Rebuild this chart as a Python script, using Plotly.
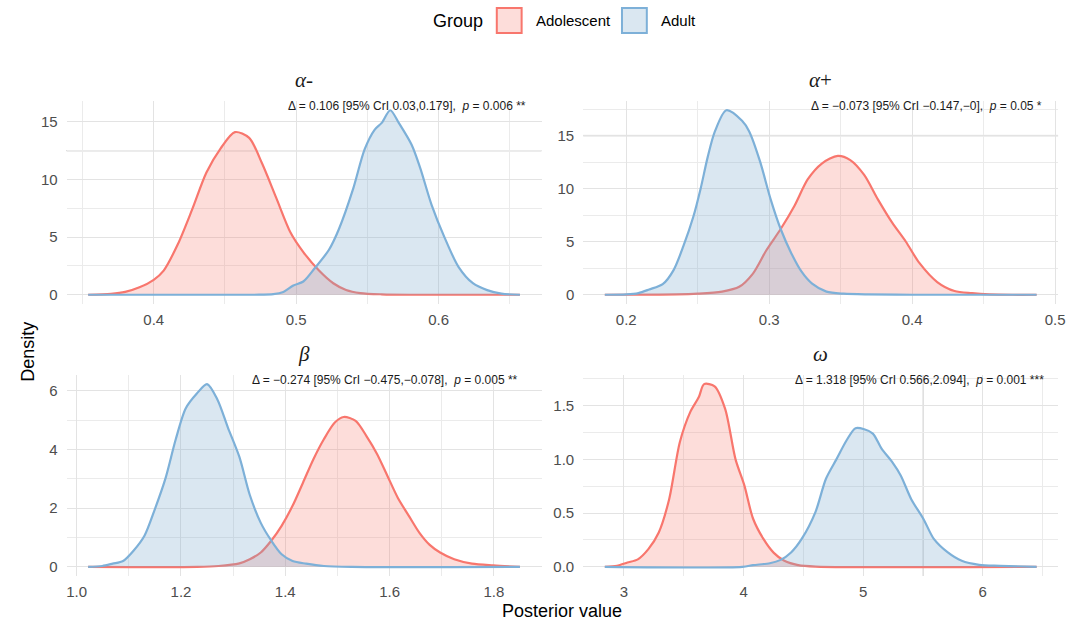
import plotly.graph_objects as go

W, H = 1091, 624

# ---------------- data ----------------
panel_titles = ["<i>α</i>-", "<i>α</i>+", "<i>β</i>", "<i>ω</i>"]
groups = ["Adolescent", "Adult"]

# alpha-minus
am_adol_x = [0.354, 0.370, 0.380, 0.390, 0.400, 0.407, 0.417, 0.427, 0.437, 0.447, 0.457, 0.467, 0.476,
             0.486, 0.496, 0.505, 0.516, 0.526, 0.535, 0.545, 0.560, 0.580, 0.657]
am_adol_y = [0.0, 0.08, 0.25, 0.65, 1.3, 2.1, 4.4, 7.4, 10.6, 12.7, 14.1, 13.6, 11.4,
             8.4, 5.4, 3.7, 2.1, 1.0, 0.42, 0.15, 0.04, 0.0, 0.0]
am_adult_x = [0.354, 0.470, 0.484, 0.491, 0.498, 0.505, 0.513, 0.523, 0.530, 0.540, 0.548, 0.555, 0.560,
              0.566, 0.572, 0.581, 0.587, 0.595, 0.604, 0.614, 0.624, 0.634, 0.644, 0.657]
am_adult_y = [0.0, 0.0, 0.05, 0.25, 0.8, 1.15, 2.3, 3.9, 5.7, 9.2, 12.6, 14.3, 14.9,
              16.0, 14.9, 13.0, 11.0, 7.8, 5.0, 2.4, 1.0, 0.4, 0.1, 0.0]

# alpha-plus
ap_adol_x = [0.185, 0.235, 0.250, 0.267, 0.279, 0.2886, 0.298, 0.308, 0.3177, 0.327, 0.337, 0.348, 0.3567,
             0.3664, 0.376, 0.386, 0.3956, 0.405, 0.4175, 0.4296, 0.4418, 0.454, 0.470, 0.487]
ap_adol_y = [0.0, 0.03, 0.1, 0.3, 0.75, 2.0, 4.2, 6.2, 8.4, 10.9, 12.4, 13.1, 12.7,
             11.3, 9.0, 6.8, 5.0, 3.0, 1.2, 0.35, 0.15, 0.04, 0.0, 0.0]
ap_adult_x = [0.185, 0.200, 0.2085, 0.216, 0.2255, 0.233, 0.240, 0.247, 0.252, 0.257, 0.262, 0.270, 0.281,
              0.286, 0.2935, 0.301, 0.308, 0.3155, 0.3225, 0.330, 0.340, 0.352, 0.369, 0.400, 0.487]
ap_adult_y = [0.0, 0.03, 0.16, 0.5, 1.0, 2.3, 4.6, 7.4, 10.0, 13.0, 15.4, 17.4, 16.4,
              15.4, 12.6, 9.0, 6.2, 3.9, 2.2, 1.05, 0.3, 0.1, 0.03, 0.0, 0.0]

# beta
b_adol_x = [1.022, 1.231, 1.272, 1.312, 1.332, 1.353, 1.373, 1.393, 1.414, 1.434, 1.454, 1.474, 1.495,
            1.512, 1.535, 1.556, 1.576, 1.596, 1.616, 1.637, 1.657, 1.677, 1.697, 1.724, 1.758, 1.799, 1.850]
b_adol_y = [0.0, 0.0, 0.03, 0.12, 0.26, 0.49, 0.89, 1.4, 2.08, 2.87, 3.67, 4.35, 4.92,
            5.11, 4.98, 4.45, 3.85, 3.1, 2.35, 1.74, 1.17, 0.75, 0.49, 0.26, 0.11, 0.05, 0.0]
b_adult_x = [1.022, 1.049, 1.069, 1.089, 1.109, 1.130, 1.150, 1.170, 1.190, 1.209, 1.230, 1.250, 1.270,
             1.290, 1.312, 1.332, 1.353, 1.373, 1.393, 1.414, 1.440, 1.474, 1.528, 1.850]
b_adult_y = [0.0, 0.03, 0.11, 0.2, 0.55, 1.06, 1.97, 3.0, 4.35, 5.4, 5.9, 6.23, 5.7,
             4.75, 3.75, 2.45, 1.5, 0.9, 0.43, 0.2, 0.11, 0.03, 0.0, 0.0]

# omega
w_adol_x = [2.84, 2.942, 3.029, 3.116, 3.204, 3.291, 3.378, 3.467, 3.554, 3.626, 3.670, 3.758, 3.846,
            3.933, 4.006, 4.079, 4.166, 4.253, 4.341, 4.457, 4.603, 6.45]
w_adol_y = [0.0, 0.01, 0.04, 0.07, 0.165, 0.32, 0.63, 1.16, 1.44, 1.58, 1.70, 1.68, 1.47,
            1.0, 0.76, 0.45, 0.26, 0.13, 0.056, 0.016, 0.003, 0.0]
w_adult_x = [2.84, 3.99, 4.079, 4.22, 4.31, 4.397, 4.486, 4.601, 4.689, 4.776, 4.863, 4.936, 5.009,
             5.081, 5.154, 5.242, 5.314, 5.402, 5.504, 5.591, 5.708, 5.824, 5.97, 6.144, 6.45]
w_adult_y = [0.0, 0.0, 0.016, 0.034, 0.065, 0.134, 0.26, 0.51, 0.82, 1.0, 1.18, 1.29, 1.28,
             1.24, 1.1, 0.976, 0.85, 0.63, 0.446, 0.26, 0.134, 0.056, 0.019, 0.01, 0.0]

stat_labels = [
    "Δ = 0.106 [95% CrI 0.03,0.179],\u00a0\u00a0<i>p</i> = 0.006 **",
    "Δ = \u22120.073 [95% CrI \u22120.147,\u22120],\u00a0\u00a0<i>p</i> = 0.05 *",
    "Δ = \u22120.274 [95% CrI \u22120.475,\u22120.078],\u00a0\u00a0<i>p</i> = 0.005 **",
    "Δ = 1.318 [95% CrI 0.566,2.094],\u00a0\u00a0<i>p</i> = 0.001 ***",
]

x_major = [0.1, 0.1, 0.2, 1.0]
y_major = [5, 5, 2, 0.5]
x_fmt = [None, None, ".1f", None]
y_fmt = [None, None, None, ".1f"]

series = [
    ((am_adol_x, am_adol_y), (am_adult_x, am_adult_y)),
    ((ap_adol_x, ap_adol_y), (ap_adult_x, ap_adult_y)),
    ((b_adol_x, b_adol_y), (b_adult_x, b_adult_y)),
    ((w_adol_x, w_adol_y), (w_adult_x, w_adult_y)),
]

# ---------------- styling ----------------
ADOL_LINE = "#F8766D"
ADOL_FILL = "rgba(248,118,109,0.25)"
ADULT_LINE = "#7DB0D8"
ADULT_FILL = "rgba(123,170,205,0.28)"
FONT = "Liberation Sans, Arial, sans-serif"
TICK_COL = "#4d4d4d"
GRID_MAJ = "#e3e3e3"
GRID_MIN = "#ebebeb"

def px_x(p):
    return p / W

def px_y(p):
    return 1 - p / H

# panel pixel boxes: (left, right, top, bottom)
col_px = [(67, 545), (587, 1065)]
row_px = [(101, 304), (375, 576)]

fig = go.Figure()
annotations = []
shapes = []

for i, ((ax_, ay_), (bx_, by_)) in enumerate(series):
    r, c = divmod(i, 2)
    n = "" if i == 0 else str(i + 1)
    xa, ya = "x" + n, "y" + n
    for (xs, ys), name, lc, fc in [((ax_, ay_), "Adolescent", ADOL_LINE, ADOL_FILL),
                                    ((bx_, by_), "Adult", ADULT_LINE, ADULT_FILL)]:
        fig.add_trace(go.Scatter(
            x=xs, y=ys, mode="lines", name=name, legendgroup=name, showlegend=False,
            line=dict(color=lc, width=2.2, shape="spline", smoothing=0.8),
            fill="tozeroy", fillcolor=fc, xaxis=xa, yaxis=ya,
            hoverinfo="x+y+name",
        ))
    xmin = min(min(ax_), min(bx_))
    xmax = max(max(ax_), max(bx_))
    ymax = max(max(ay_), max(by_))
    xpad = (xmax - xmin) * 0.05
    l, rgt = col_px[c]
    t, b = row_px[r]
    xaxis = dict(
        domain=[px_x(l), px_x(rgt)], anchor=ya, range=[xmin - xpad, xmax + xpad],
        dtick=x_major[i], tick0=0, showgrid=True, gridcolor=GRID_MAJ, gridwidth=1.4,
        minor=dict(dtick=x_major[i] / 2, tick0=0, showgrid=True, gridcolor=GRID_MIN, gridwidth=1),
        zeroline=False, showline=False, ticks="", ticklabelstandoff=5,
        tickfont=dict(family=FONT, size=15, color=TICK_COL),
    )
    if x_fmt[i]:
        xaxis["tickformat"] = x_fmt[i]
    yaxis = dict(
        domain=[px_y(b), px_y(t)], anchor=xa, range=[-0.05 * ymax, 1.05 * ymax],
        dtick=y_major[i], tick0=0, showgrid=True, gridcolor=GRID_MAJ, gridwidth=1.4,
        minor=dict(dtick=y_major[i] / 2, tick0=0, showgrid=True, gridcolor=GRID_MIN, gridwidth=1),
        zeroline=False, showline=False, ticks="", ticklabelstandoff=8,
        tickfont=dict(family=FONT, size=15, color=TICK_COL),
    )
    if y_fmt[i]:
        yaxis["tickformat"] = y_fmt[i]
    fig.update_layout({"xaxis" + n: xaxis, "yaxis" + n: yaxis})

    # panel title
    annotations.append(dict(
        text=panel_titles[i], x=px_x((l + rgt) / 2), y=px_y(t - 21), xref="paper", yref="paper",
        xanchor="center", yanchor="middle", showarrow=False,
        font=dict(family="Liberation Serif, DejaVu Serif, serif", size=21, color="#1a1a1a"),
    ))
    # statistic label
    stat_right = [531, 1051, 523, 1053][i]
    annotations.append(dict(
        text=stat_labels[i], x=px_x(stat_right), y=px_y(t + 5), xref="paper", yref="paper",
        xanchor="right", yanchor="middle", showarrow=False,
        font=dict(family=FONT, size=12, color="#1a1a1a"),
    ))

# slightly darker rendered grid lines seen in the reference
shapes.append(dict(type="line", xref="x domain", yref="y", x0=0, x1=1, y0=12.5, y1=12.5,
                   line=dict(color="#b4b4b4", width=1.2), layer="below"))
shapes.append(dict(type="line", xref="x2 domain", yref="y2", x0=0, x1=1, y0=15, y1=15,
                   line=dict(color="#e9e9e9", width=2), layer="below"))
shapes.append(dict(type="line", xref="x4", yref="y4 domain", x0=5.5, x1=5.5, y0=0, y1=1,
                   line=dict(color="#c6c6c6", width=1.2), layer="below"))

# axis titles
annotations.append(dict(text="Density", x=px_x(28), y=px_y(352), xref="paper", yref="paper",
                        textangle=-90, showarrow=False, xanchor="center", yanchor="middle",
                        font=dict(family=FONT, size=18, color="#000000")))
annotations.append(dict(text="Posterior value", x=px_x(566), y=px_y(611), xref="paper", yref="paper",
                        showarrow=False, xanchor="center", yanchor="middle",
                        font=dict(family=FONT, size=18, color="#000000")))

# legend (drawn as keys + text)
annotations.append(dict(text="Group", x=px_x(488), y=px_y(21), xref="paper", yref="paper",
                        showarrow=False, xanchor="right", yanchor="middle",
                        font=dict(family=FONT, size=18, color="#000000")))
legend_items = [(groups[0], ADOL_LINE, ADOL_FILL, 500), (groups[1], ADULT_LINE, ADULT_FILL, 626)]
for name, lc, fc, x0 in legend_items:
    shapes.append(dict(type="rect", xref="paper", yref="paper",
                       x0=px_x(x0), x1=px_x(x0 + 25), y0=px_y(33), y1=px_y(8),
                       fillcolor=fc, line=dict(color=lc, width=2)))
    annotations.append(dict(text=name, x=px_x(x0 + 37), y=px_y(21), xref="paper", yref="paper",
                            showarrow=False, xanchor="left", yanchor="middle",
                            font=dict(family=FONT, size=15, color="#000000")))

fig.update_layout(
    width=W, height=H, margin=dict(l=0, r=0, t=0, b=0),
    paper_bgcolor="white", plot_bgcolor="white",
    showlegend=False, annotations=annotations, shapes=shapes,
    font=dict(family=FONT),
)

fig.write_html("out.html")
